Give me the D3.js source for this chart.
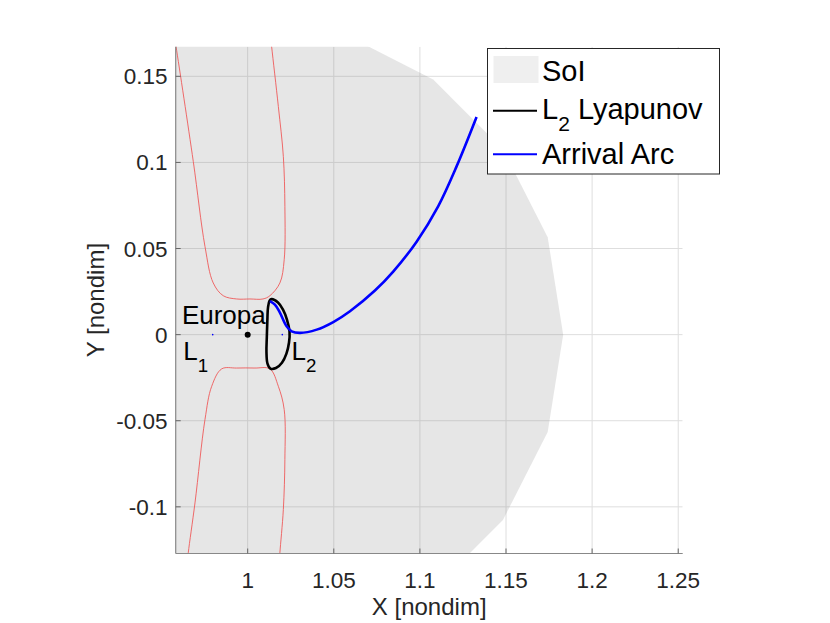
<!DOCTYPE html>
<html>
<head>
<meta charset="utf-8">
<script src="https://cdn.jsdelivr.net/npm/d3@7"></script>
<style>
  body { margin: 0; background: #fff; }
  text { font-family: "Liberation Sans", Arial, sans-serif; }
</style>
</head>
<body>
<script>
// tick values
var xTicks = [1, 1.05, 1.1, 1.15, 1.2, 1.25];
var yTicks = [-0.1, -0.05, 0, 0.05, 0.1, 0.15];

// sphere of influence around Europa (polygon vertices)
var soiBoundary = [
  [1.1832, 0], [1.1742, 0.0566], [1.1482, 0.1077], [1.1077, 0.1482], [1.0566, 0.1742],
  [1.0, 0.1832], [0.9434, 0.1742], [0.8923, 0.1482], [0.8518, 0.1077], [0.8258, 0.0566],
  [0.8168, 0], [0.8258, -0.0566], [0.8518, -0.1077], [0.8923, -0.1482], [0.9434, -0.1742],
  [1.0, -0.1832], [1.0566, -0.1742], [1.1077, -0.1482], [1.1482, -0.1077], [1.1742, -0.0566]
];

// zero velocity curves (upper and lower)
var zvcUpper = [
  [0.9570, 0.1760], [0.9584, 0.1673], [0.9684, 0.1006], [0.9752, 0.0512], [0.9800, 0.0300],
  [0.9858, 0.0226], [0.9936, 0.0207], [1.0013, 0.0207], [1.0089, 0.0207], [1.0129, 0.0226],
  [1.0187, 0.0300], [1.0212, 0.0435], [1.0216, 0.0745], [1.0207, 0.1035], [1.0178, 0.1325],
  [1.0139, 0.1673], [1.0132, 0.1740]
];
var zvcLower = [
  [0.9650, -0.1320], [0.9655, -0.1267], [0.9694, -0.0977], [0.9752, -0.0493], [0.9791, -0.0300],
  [0.9849, -0.0199], [0.9936, -0.0194], [1.0042, -0.0194], [1.0129, -0.0199], [1.0178, -0.0300],
  [1.0212, -0.0435], [1.0216, -0.0725], [1.0207, -0.1016], [1.0187, -0.1267], [1.0184, -0.1320]
];

// L2 Lyapunov orbit
var lyapunovOrbit = [
  [1.0139, 0.0206], [1.0176, 0.0186], [1.0205, 0.0145], [1.0228, 0.0087], [1.0243, 0.0017],
  [1.0240, -0.0046], [1.0225, -0.0110], [1.0199, -0.0163], [1.0164, -0.0194], [1.0132, -0.0197],
  [1.0115, -0.0168], [1.0109, -0.0099], [1.0111, -0.0017], [1.0114, 0.0075], [1.0118, 0.0157],
  [1.0127, 0.0197]
];

// arrival arc
var arrivalArc = [
  [1.1329, 0.1264], [1.1213, 0.0977], [1.1106, 0.0745], [1.0981, 0.0540],
  [1.0845, 0.0366], [1.0739, 0.0256], [1.0594, 0.0136], [1.0497, 0.0073], [1.0401, 0.0029],
  [1.0304, 0.0010], [1.0255, 0.0019], [1.0226, 0.0048], [1.0187, 0.0128], [1.0158, 0.0174],
  [1.0129, 0.0194]
];

var europa = [1, 0];
var librationPoints = [[0.9797, 0], [1.0201, 0]];

var legendNames = ["SoI", "L2 Lyapunov", "Arrival Arc"];

// plot box in pixels
var box = {left: 175.7, right: 682.7, top: 46.7, bottom: 553.5};

var x = d3.scaleLinear().domain([0.9582, 1.2526]).range([box.left, box.right]);
var y = d3.scaleLinear().domain([-0.1271, 0.1672]).range([box.bottom, box.top]);

var svg = d3.select("body").append("svg")
    .attr("width", 830)
    .attr("height", 623);

svg.append("defs").append("clipPath")
    .attr("id", "clip")
  .append("rect")
    .attr("x", box.left)
    .attr("y", box.top)
    .attr("width", box.right - box.left)
    .attr("height", box.bottom - box.top);

var plot = svg.append("g").attr("clip-path", "url(#clip)");

var line = d3.line()
    .x(function(d) { return x(d[0]); })
    .y(function(d) { return y(d[1]); });

// grid
plot.selectAll(".xgrid")
    .data(xTicks)
  .enter().append("line")
    .attr("x1", function(d) { return x(d); })
    .attr("x2", function(d) { return x(d); })
    .attr("y1", box.top)
    .attr("y2", box.bottom)
    .attr("stroke", "#dedede")
    .attr("stroke-width", 1);
plot.selectAll(".ygrid")
    .data(yTicks)
  .enter().append("line")
    .attr("y1", function(d) { return y(d); })
    .attr("y2", function(d) { return y(d); })
    .attr("x1", box.left)
    .attr("x2", box.right)
    .attr("stroke", "#dedede")
    .attr("stroke-width", 1);

// SoI patch
plot.append("path")
    .datum(soiBoundary)
    .attr("d", line.curve(d3.curveLinearClosed))
    .attr("fill", "#808080")
    .attr("fill-opacity", 0.2)
    .attr("stroke", "none");

// zero velocity curves
line.curve(d3.curveCatmullRom);
[zvcUpper, zvcLower].forEach(function(c) {
  plot.append("path")
      .datum(c)
      .attr("d", line)
      .attr("fill", "none")
      .attr("stroke", "#ee5a5a")
      .attr("stroke-width", 0.9);
});

// Lyapunov orbit
plot.append("path")
    .datum(lyapunovOrbit)
    .attr("d", line.curve(d3.curveCatmullRomClosed))
    .attr("fill", "none")
    .attr("stroke", "#000")
    .attr("stroke-width", 2.6);

// arrival arc
plot.append("path")
    .datum(arrivalArc)
    .attr("d", line.curve(d3.curveCatmullRom))
    .attr("fill", "none")
    .attr("stroke", "#0000ff")
    .attr("stroke-width", 2.6);

// libration points and Europa
plot.selectAll(".lp")
    .data(librationPoints)
  .enter().append("circle")
    .attr("cx", function(d) { return x(d[0]); })
    .attr("cy", function(d) { return y(d[1]); })
    .attr("r", 0.8)
    .attr("fill", "#0000ff");
plot.append("circle")
    .attr("cx", x(europa[0]))
    .attr("cy", y(europa[1]))
    .attr("r", 3)
    .attr("fill", "#000");

// annotations
svg.append("text")
    .attr("x", x(0.9618))
    .attr("y", y(0.0064))
    .style("font-size", "26px")
    .text("Europa");

function subLabel(g, px, py, main, sub, size) {
  var t = g.append("text")
      .attr("x", px)
      .attr("y", py)
      .style("font-size", size + "px");
  t.append("tspan").text(main);
  t.append("tspan").attr("dy", size * 0.46).style("font-size", (size * 0.72) + "px").text(sub);
  return t;
}
subLabel(svg, x(0.9626), y(-0.0146), "L", "1", 26);
subLabel(svg, x(1.0254), y(-0.0149), "L", "2", 26);

// axes lines and ticks
svg.append("line")
    .attr("x1", box.left).attr("x2", box.left)
    .attr("y1", box.top).attr("y2", box.bottom)
    .attr("stroke", "#888").attr("stroke-width", 1.2);
svg.append("line")
    .attr("x1", box.left).attr("x2", box.right)
    .attr("y1", box.bottom).attr("y2", box.bottom)
    .attr("stroke", "#888").attr("stroke-width", 1.2);

svg.selectAll(".xtick")
    .data(xTicks)
  .enter().append("line")
    .attr("x1", function(d) { return x(d); })
    .attr("x2", function(d) { return x(d); })
    .attr("y1", box.bottom)
    .attr("y2", box.bottom - 5)
    .attr("stroke", "#666");
svg.selectAll(".ytick")
    .data(yTicks)
  .enter().append("line")
    .attr("y1", function(d) { return y(d); })
    .attr("y2", function(d) { return y(d); })
    .attr("x1", box.left)
    .attr("x2", box.left + 5)
    .attr("stroke", "#666");

svg.selectAll(".xlab")
    .data(xTicks)
  .enter().append("text")
    .attr("x", function(d) { return x(d); })
    .attr("y", 588)
    .attr("text-anchor", "middle")
    .attr("fill", "#262626")
    .style("font-size", "22.5px")
    .text(function(d) { return d; });
svg.selectAll(".ylab")
    .data(yTicks)
  .enter().append("text")
    .attr("x", 167.5)
    .attr("y", function(d) { return y(d) + 8; })
    .attr("text-anchor", "end")
    .attr("fill", "#262626")
    .style("font-size", "22.5px")
    .text(function(d) { return d; });

// axis titles
svg.append("text")
    .attr("x", (box.left + box.right) / 2)
    .attr("y", 615)
    .attr("text-anchor", "middle")
    .attr("fill", "#262626")
    .style("font-size", "24px")
    .text("X [nondim]");
svg.append("text")
    .attr("transform", "translate(104," + ((box.top + box.bottom) / 2) + ") rotate(-90)")
    .attr("text-anchor", "middle")
    .attr("fill", "#262626")
    .style("font-size", "24px")
    .text("Y [nondim]");

// legend
var legend = svg.append("g");
legend.append("rect")
    .attr("x", 487.5)
    .attr("y", 48.5)
    .attr("width", 232)
    .attr("height", 125.5)
    .attr("fill", "#fff")
    .attr("stroke", "#262626")
    .attr("stroke-width", 1);
legend.append("rect")
    .attr("x", 493.5)
    .attr("y", 56)
    .attr("width", 45)
    .attr("height", 27)
    .attr("fill", "#efefef");
legend.append("line")
    .attr("x1", 493).attr("x2", 537)
    .attr("y1", 110.7).attr("y2", 110.7)
    .attr("stroke", "#000").attr("stroke-width", 2);
legend.append("line")
    .attr("x1", 493).attr("x2", 537)
    .attr("y1", 154.3).attr("y2", 154.3)
    .attr("stroke", "#0000ff").attr("stroke-width", 2);

legend.append("text")
    .attr("x", 542)
    .attr("y", 81)
    .style("font-size", "29px")
    .text(legendNames[0]);
var lt = legend.append("text")
    .attr("x", 542)
    .attr("y", 119)
    .style("font-size", "29px");
lt.append("tspan").text("L");
lt.append("tspan").attr("dy", 12).style("font-size", "21px").text("2");
lt.append("tspan").attr("dy", -12).text(" Lyapunov");
legend.append("text")
    .attr("x", 542)
    .attr("y", 163.5)
    .style("font-size", "29px")
    .text(legendNames[2]);
</script>
</body>
</html>
